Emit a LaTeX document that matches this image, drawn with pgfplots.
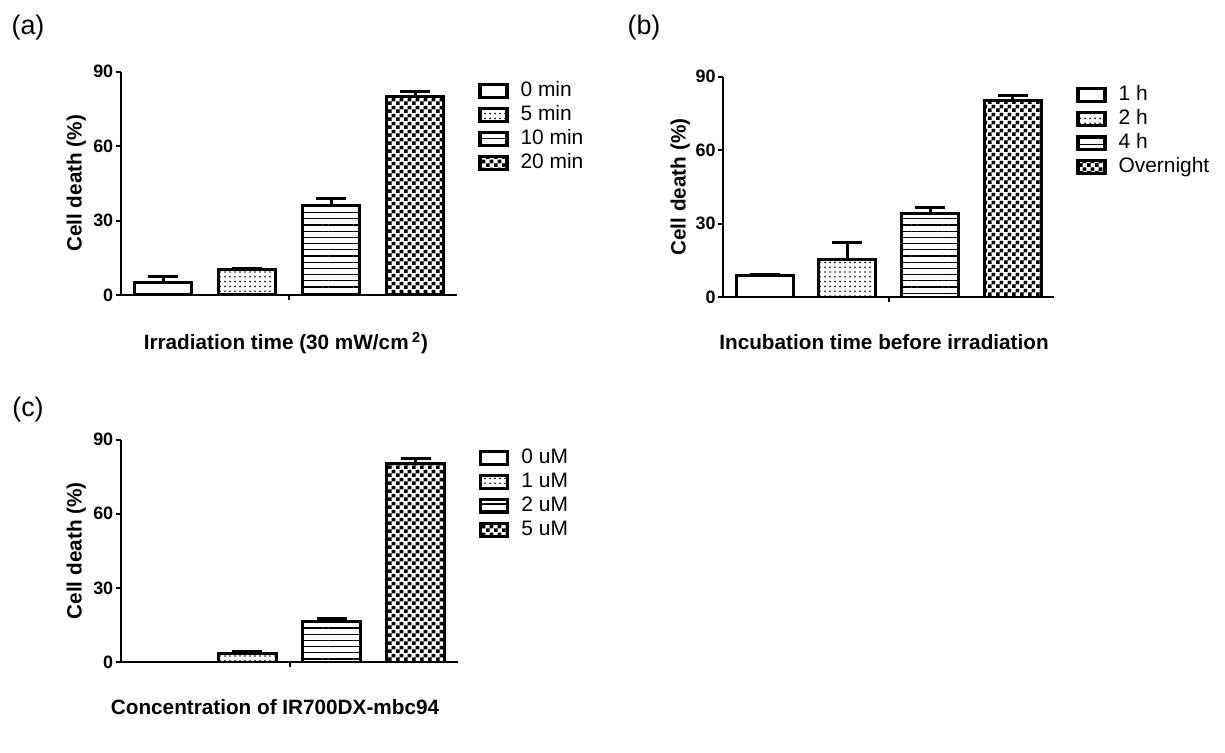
\documentclass[border=0pt]{standalone}
\usepackage{fontspec}
\setmainfont{Liberation Sans}
\usepackage{pgfplots}
\pgfplotsset{compat=1.18}
\usetikzlibrary{patterns}

% fill patterns of the bars
\pgfdeclarepatternformonly{sparsedots}{\pgfqpoint{-0.6bp}{-0.6bp}}{\pgfqpoint{0.6bp}{0.6bp}}{\pgfqpoint{2.5bp}{2.4bp}}%
{\pgfpathcircle{\pgfpointorigin}{0.45bp}\pgfusepath{fill}}
\pgfdeclarepatternformonly{hstripes}{\pgfqpoint{0bp}{-0.5bp}}{\pgfqpoint{3.1bp}{0.5bp}}{\pgfqpoint{3.1bp}{3.1bp}}%
{\pgfsetlinewidth{0.6bp}\pgfpathmoveto{\pgfqpoint{-0.1bp}{0bp}}\pgfpathlineto{\pgfqpoint{3.2bp}{0bp}}\pgfusepath{stroke}}
\pgfdeclarepatternformonly{checker}{\pgfqpoint{0bp}{0bp}}{\pgfqpoint{3.8bp}{3.8bp}}{\pgfqpoint{3.8bp}{3.8bp}}%
{\pgfpathrectangle{\pgfpointorigin}{\pgfqpoint{1.9bp}{1.9bp}}\pgfpathrectangle{\pgfqpoint{1.9bp}{1.9bp}}{\pgfqpoint{1.9bp}{1.9bp}}\pgfusepath{fill}}

\pgfplotsset{
  panel/.style={scale only axis, xmin=-0.5, xmax=3.5, ymin=0, ymax=90,
    axis x line*=bottom, axis y line*=left,
    axis line style={line width=1bp, black},
    ytick={0,30,60,90}, xtick={1.5}, xticklabels={},
    tick align=outside, major tick length=2.5bp,
    tick style={black, line width=1bp},
    yticklabel style={font=\fontsize{9}{11}\selectfont\bfseries, inner sep=1.2bp},
    /pgf/number format/assume math mode=true,
    ylabel={Cell death (\%)},
    ylabel style={font=\fontsize{10.4}{12}\selectfont\bfseries},
    xlabel style={font=\fontsize{10.4}{12}\selectfont\bfseries, anchor=center},
    legend style={draw=none, fill=none, anchor=north west, inner sep=0pt,
      font=\fontsize{10.5}{12}\selectfont, row sep=1.8bp,
      nodes={inner sep=0pt, text height=8bp, text depth=2.2bp},
      column sep=6bp},
    legend cell align=left},
  bars/.style={ybar, bar width=0.686, bar shift=0pt, draw=black, line width=1.5bp,
    legend image code/.code={\draw[##1, line width=1.6bp] (0bp,-3.25bp) rectangle (13.5bp,3.25bp);},
    error bars/y dir=plus, error bars/y explicit,
    error bars/error bar style={line width=1.5bp, black},
    error bars/error mark options={rotate=90, line width=1.5bp, mark size=7.5bp, black}},
  b1/.style={bars, fill=white},
  b2/.style={bars, pattern=sparsedots},
  b3/.style={bars, pattern=hstripes},
  b4/.style={bars, pattern=checker},
}

\begin{document}
\begin{tikzpicture}[x=1bp,y=1bp]
\useasboundingbox (0,0) rectangle (612.5,376);

% (a)
\node[font=\fontsize{13.5}{15}\selectfont] at (14,362) {(a)};
\begin{axis}[panel, at={(60.5bp,228.5bp)}, anchor=south west,
  width=168bp, height=111.65bp,
  xlabel={Irradiation time (30 mW/cm\,\textsuperscript{2})},
  xlabel style={at={(axis description cs:0.491,-0.215)}},
  ylabel style={at={(axis description cs:-0.133,0.5)}, anchor=center},
  legend style={at={(axis description cs:1.0625,0.962)}}]
\addplot[b1] coordinates {(0,5.1) +- (0,2.3)};
\addplot[b2] coordinates {(1,10.1) +- (0,0.7)};
\addplot[b3] coordinates {(2,35.9) +- (0,2.8)};
\addplot[b4] coordinates {(3,80.2) +- (0,1.7)};
\legend{0 min, 5 min, 10 min, 20 min}
\end{axis}

% (b)
\node[font=\fontsize{13.5}{15}\selectfont] at (322,362) {(b)};
\begin{axis}[panel, at={(361.65bp,227.35bp)}, anchor=south west,
  width=165.35bp, height=110.3bp,
  xlabel={Incubation time before irradiation},
  xlabel style={at={(axis description cs:0.486,-0.203)}},
  ylabel style={at={(axis description cs:-0.13,0.5)}, anchor=center},
  legend style={at={(axis description cs:1.0665,0.966)}}]
\addplot[b1] coordinates {(0,8.7) +- (0,0.8)};
\addplot[b2] coordinates {(1,15.6) +- (0,6.7)};
\addplot[b3] coordinates {(2,34.3) +- (0,2.4)};
\addplot[b4] coordinates {(3,80.3) +- (0,1.9)};
\legend{1 h, 2 h, 4 h, Overnight}
\end{axis}

% (c)
\node[font=\fontsize{13.5}{15}\selectfont] at (14,171) {(c)};
\begin{axis}[panel, at={(60.5bp,45bp)}, anchor=south west,
  width=168.5bp, height=111.25bp,
  xlabel={Concentration of IR700DX-mbc94},
  xlabel style={at={(axis description cs:0.457,-0.202)}},
  ylabel style={at={(axis description cs:-0.133,0.5)}, anchor=center},
  legend style={at={(axis description cs:1.062,0.965)}}]
\addplot[b1, error bars/y dir=none] coordinates {(0,0)};
\addplot[b2] coordinates {(1,3.5) +- (0,0.9)};
\addplot[b3] coordinates {(2,16.3) +- (0,1.4)};
\addplot[b4] coordinates {(3,80.4) +- (0,2.0)};
\legend{0 uM, 1 uM, 2 uM, 5 uM}
\end{axis}
\end{tikzpicture}
\end{document}
